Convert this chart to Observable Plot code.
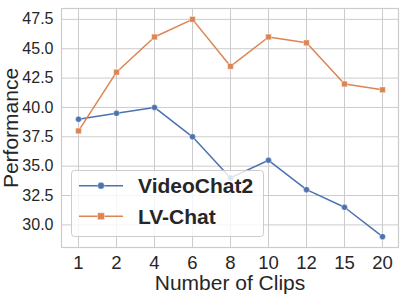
<!DOCTYPE html>
<html>
<head>
<meta charset="utf-8">
<script src="https://cdn.jsdelivr.net/npm/d3@7"></script>
<script src="https://cdn.jsdelivr.net/npm/@observablehq/plot@0.6"></script>
<style>
  html, body { margin: 0; padding: 0; background: white; }
  #wrap { position: relative; width: 407px; height: 305px; font-family: "Liberation Sans", Arial, sans-serif; }
  #legend { position: absolute; left: 71px; top: 170px; }
</style>
</head>
<body>
<div id="wrap"></div>
<script>
const clips = ["1", "2", "4", "6", "8", "10", "12", "15", "20"];
const videoChat2 = [39, 39.5, 40, 37.5, 34, 35.5, 33, 31.5, 29];
const lvChat = [38, 43, 46, 47.5, 43.5, 46, 45.5, 42, 41.5];
const yTicks = [30, 32.5, 35, 37.5, 40, 42.5, 45, 47.5];
const seriesNames = ["VideoChat2", "LV-Chat"];
const seriesColors = ["#4C72B0", "#DD8452"];
const seriesSymbols = ["circle", "square"];
const xLabel = "Number of Clips";
const yLabel = "Performance";

const seriesValues = [videoChat2, lvChat];
const data = seriesNames.flatMap((name, i) =>
  clips.map((c, j) => ({ series: name, clip: c, value: seriesValues[i][j] }))
);

const font = "Liberation Sans, Arial, sans-serif";
const chart = Plot.plot({
  width: 407,
  height: 305,
  marginTop: 8,
  marginBottom: 58,
  marginLeft: 61,
  marginRight: 9,
  style: { fontFamily: font, color: "#262626", background: "white", overflow: "visible" },
  x: { type: "point", domain: clips, padding: 0.4 },
  y: { domain: [28.075, 48.425] },
  color: { domain: seriesNames, range: seriesColors },
  symbol: { domain: seriesNames, range: seriesSymbols },
  marks: [
    Plot.gridX(clips, { stroke: "#cccccc", strokeOpacity: 1, strokeWidth: 1 }),
    Plot.gridY(yTicks, { stroke: "#cccccc", strokeOpacity: 1, strokeWidth: 1 }),
    Plot.frame({ stroke: "#cccccc", strokeWidth: 1.2 }),
    Plot.axisX(clips, { tickSize: 0, tickPadding: 8, fontSize: 18.5, fill: "#262626", label: null }),
    Plot.axisY(yTicks, { tickSize: 0, tickPadding: 8, fontSize: 16, fill: "#262626", label: null, tickFormat: d => d.toFixed(1) }),
    Plot.text([xLabel], { frameAnchor: "bottom", lineAnchor: "middle", textAnchor: "middle", dy: 36, fontSize: 21, fill: "#262626", text: d => d }),
    Plot.text([yLabel], { frameAnchor: "left", lineAnchor: "middle", textAnchor: "middle", dx: -50, rotate: -90, fontSize: 21, fill: "#262626", text: d => d }),
    Plot.line(data, { x: "clip", y: "value", z: "series", stroke: "series", strokeWidth: 1.5 }),
    Plot.dot(data, { x: "clip", y: "value", fill: "series", symbol: "series", r: d => d.series === "LV-Chat" ? 3.9 : 3.4, stroke: "white", strokeWidth: 0.4 })
  ]
});

const wrap = document.getElementById("wrap");
wrap.appendChild(chart);

// Legend overlay (semi-transparent box like matplotlib)
const lw = 192, lh = 66;
const legend = d3.select(wrap).append("svg")
  .attr("id", "legend")
  .attr("width", lw + 1).attr("height", lh + 1);
legend.append("rect")
  .attr("x", 0.5).attr("y", 0.5).attr("width", lw).attr("height", lh)
  .attr("rx", 3).attr("fill", "white").attr("fill-opacity", 0.8)
  .attr("stroke", "#cccccc").attr("stroke-width", 1);
const rows = legend.selectAll("g.row").data(seriesNames).join("g")
  .attr("transform", (d, i) => `translate(0, ${15.7 + i * 30.5})`);
rows.append("line")
  .attr("x1", 8).attr("x2", 52).attr("y1", 0).attr("y2", 0)
  .attr("stroke", (d, i) => seriesColors[i]).attr("stroke-width", 1.5);
rows.append("path")
  .attr("transform", "translate(30,0)")
  .attr("d", (d, i) => d3.symbol(i === 0 ? d3.symbolCircle : d3.symbolSquare, i === 0 ? Math.PI * 3.4 * 3.4 : Math.PI * 3.9 * 3.9)())
  .attr("fill", (d, i) => seriesColors[i]).attr("stroke", "white").attr("stroke-width", 0.4);
rows.append("text")
  .attr("x", 67).attr("y", 0).attr("dy", "0.36em")
  .attr("font-family", font).attr("font-size", 21).attr("font-weight", "bold")
  .attr("fill", "#262626")
  .text(d => d);
</script>
</body>
</html>
